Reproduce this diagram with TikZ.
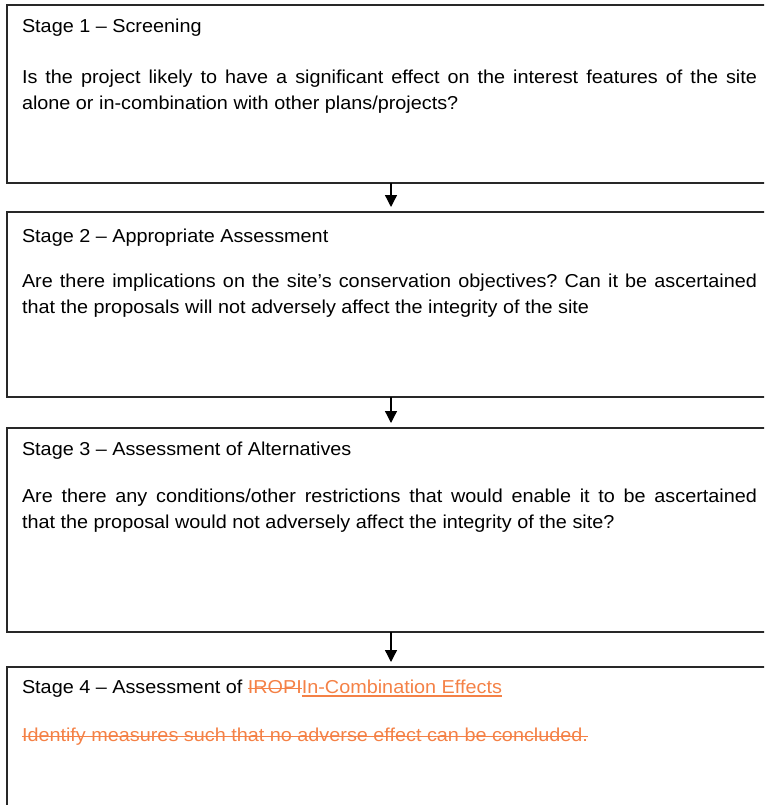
\documentclass[tikz,border=0pt]{standalone}
\usepackage{fontspec}
\setmainfont[FakeStretch=1.06]{Liberation Sans}
\usetikzlibrary{arrows.meta}
\definecolor{trackorange}{RGB}{244,129,70}
\definecolor{boxline}{RGB}{40,40,40}
\newsavebox\mytmpbox
\newcommand\mystrike[1]{\sbox\mytmpbox{#1}\rlap{\rule[4.3pt]{\wd\mytmpbox}{1.1pt}}\usebox\mytmpbox}
\newcommand\myunder[1]{\sbox\mytmpbox{#1}\rlap{\rule[-3pt]{\wd\mytmpbox}{1.2pt}}\usebox\mytmpbox}
\frenchspacing
\begin{document}
\begin{tikzpicture}[x=1pt,y=-1pt,
  stagebox/.style={draw=boxline, line width=1.3pt, minimum width=770pt, anchor=north west, inner sep=0pt, outer sep=0pt},
  txt/.style={anchor=base west, inner sep=0pt, outer sep=0pt, font=\fontsize{18.7}{26}\selectfont\frenchspacing},
  jline/.style={txt},
  flow/.style={draw=black, line width=1.3pt, -{Triangle[width=12pt,length=12pt]}, shorten >=5pt}]
\useasboundingbox (0,0) rectangle (764,805);
\clip (0,0) rectangle (764,805);

% boxes
\node[stagebox, minimum height=178pt] (b1) at (7,5) {};
\node[stagebox, minimum height=185pt] (b2) at (7,212) {};
\node[stagebox, minimum height=204pt] (b3) at (7,428) {};
\node[stagebox, minimum height=170pt] (b4) at (7,667) {};

% connectors
\coordinate (ax) at (391,0);
\draw[flow] (b1.south -| ax) -- (b2.north -| ax);
\draw[flow] (b2.south -| ax) -- (b3.north -| ax);
\draw[flow] (b3.south -| ax) -- (b4.north -| ax);

% stage 1
\node[txt] (t1) at (22,32.5) {Stage 1 – Screening};
\node[jline] (p1a) at (22,83.5) {\makebox[735pt][s]{Is the project likely to have a significant effect on the interest features of the site}};
\node[txt] (p1b) at (22,109.5) {alone or in-combination with other plans/projects?};

% stage 2
\node[txt] (t2) at (22,242.5) {Stage 2 – Appropriate Assessment};
\node[jline] (p2a) at (22,287.5) {\makebox[735pt][s]{Are there implications on the site’s conservation objectives? Can it be ascertained}};
\node[txt] (p2b) at (22,313.5) {that the proposals will not adversely affect the integrity of the site};

% stage 3
\node[txt] (t3) at (22,455.5) {Stage 3 – Assessment of Alternatives};
\node[jline] (p3a) at (22,502) {\makebox[735pt][s]{Are there any conditions/other restrictions that would enable it to be ascertained}};
\node[txt] (p3b) at (22,528) {that the proposal would not adversely affect the integrity of the site?};

% stage 4
\node[txt] (t4) at (22,693.5) {Stage 4 – Assessment of {\color{trackorange}\mystrike{IROPI}\myunder{In-Combination Effects}}};
\node[txt, text=trackorange] (p4a) at (22,741.5) {\mystrike{Identify measures such that no adverse effect can be concluded.}};
\end{tikzpicture}
\end{document}
